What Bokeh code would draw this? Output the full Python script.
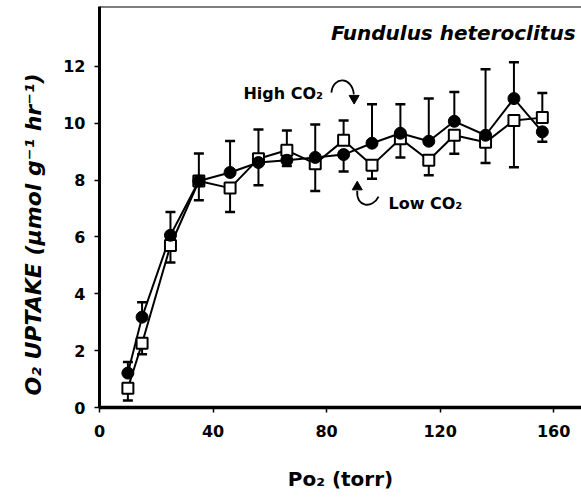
import numpy as np
from bokeh.plotting import figure
from bokeh.models import FixedTicker, Span, Title
from bokeh.core.properties import value
from bokeh.embed import file_html
from bokeh.resources import INLINE

# ---- data ----
po2 = [10, 15, 25, 35, 46, 56, 66, 76, 86, 96, 106, 116, 125, 136, 146, 156]
high_co2 = [1.21, 3.18, 6.06, 7.97, 8.27, 8.62, 8.70, 8.80, 8.90, 9.30, 9.65, 9.37, 10.07, 9.58, 10.87, 9.70]
high_bar_end = [1.60, 3.70, 6.88, 8.94, 9.38, 9.78, 8.50, 9.96, 8.30, 10.67, 10.67, 10.87, 11.10, 11.90, 12.15, 9.35]
low_co2 = [0.68, 2.26, 5.70, 7.97, 7.72, 8.75, 9.05, 8.58, 9.40, 8.52, 9.46, 8.70, 9.58, 9.33, 10.10, 10.20]
low_bar_end = [0.25, 1.87, 5.10, 7.29, 6.88, 7.82, 9.75, 7.62, 10.10, 8.05, 8.80, 8.17, 8.93, 8.60, 8.45, 11.07]
x_ticks = [0, 40, 80, 120, 160]
y_ticks = [0, 2, 4, 6, 8, 10, 12]

title_text = "Fundulus heteroclitus"
high_label = "High CO₂"
low_label = "Low CO₂"
x_label = "Po₂ (torr)"
y_label = "O₂ UPTAKE (μmol g⁻¹ hr⁻¹)"

X_END = 169.8
Y_END = 14.11

# annotation anchor positions (data units)
title_pos = (167.7, 13.16)
high_label_pos = (50.7, 11.05)
low_label_pos = (101.8, 7.18)
high_arrow = dict(x0=81.7, y0=11.08, cx0=82.2, cy0=11.66, cx1=89.0, cy1=11.66, x1=89.6, y1=11.02)
high_head = (89.7, 10.88)
low_arrow = dict(x0=98.3, y0=7.42, cx0=96.2, cy0=6.98, cx1=90.3, cy1=7.05, x1=90.8, y1=7.62)
low_head = (90.8, 7.76)

FONT = "DejaVu Sans"

p = figure(width=581, height=498, x_range=(0, X_END), y_range=(0, Y_END),
           output_backend="svg", toolbar_location=None,
           min_border_left=99, min_border_right=0, min_border_top=6, min_border_bottom=91)
p.grid.visible = False
p.outline_line_color = None
p.background_fill_color = "white"
p.border_fill_color = "white"

# axes
for ax in (p.xaxis[0], p.yaxis[0]):
    ax.axis_line_width = 3
    ax.axis_line_color = "black"
    ax.major_tick_line_width = 1.5
    ax.major_tick_line_color = "black"
    ax.major_tick_in = 0
    ax.major_tick_out = 5
    ax.minor_tick_line_color = None
    ax.major_label_text_font = FONT
    ax.major_label_text_font_size = "16px"
    ax.major_label_text_font_style = "bold"
    ax.major_label_text_color = "black"
p.xaxis.axis_line_width = 3.5

p.xaxis.ticker = FixedTicker(ticks=x_ticks)
p.yaxis.ticker = FixedTicker(ticks=y_ticks)
p.xaxis.major_label_standoff = 12
p.yaxis.major_label_standoff = 9

p.xaxis.axis_label = x_label
p.xaxis.axis_label_text_font = FONT
p.xaxis.axis_label_text_font_size = "20px"
p.xaxis.axis_label_text_font_style = "bold"
p.xaxis.axis_label_text_color = "black"
p.xaxis.axis_label_standoff = 27

ytitle = Title(text=y_label, align="left", offset=12, standoff=30,
               text_font=FONT, text_font_size="22px", text_font_style="bold italic",
               text_color="black")
p.add_layout(ytitle, "left")

p.add_layout(Span(location=Y_END, dimension="width", line_color="black", line_width=2))

# series lines
p.line(po2, low_co2, line_color="black", line_width=2)
p.line(po2, high_co2, line_color="black", line_width=2)

# error bars (one-sided as drawn)
p.segment(x0=po2, y0=low_co2, x1=po2, y1=low_bar_end, line_color="black", line_width=2)
p.segment(x0=po2, y0=high_co2, x1=po2, y1=high_bar_end, line_color="black", line_width=2)
p.scatter(po2, low_bar_end, marker="dash", size=10, line_color="black", line_width=2.5)
p.scatter(po2, high_bar_end, marker="dash", size=10, line_color="black", line_width=2.5)

# markers
p.scatter(po2, low_co2, marker="square", size=11, fill_color="white", line_color="black", line_width=2)
p.scatter(po2, high_co2, marker="circle", size=12, fill_color="black", line_color="black")

# annotations
p.text(x=[title_pos[0]], y=[title_pos[1]], text=[title_text], text_align="right",
       text_baseline="alphabetic", text_font=value(FONT), text_font_size="20px",
       text_font_style="bold italic", text_color="black")
p.text(x=[high_label_pos[0]], y=[high_label_pos[1]], text=[high_label],
       text_baseline="alphabetic", text_font=value(FONT), text_font_size="16px",
       text_font_style="bold", text_color="black")
p.text(x=[low_label_pos[0]], y=[low_label_pos[1]], text=[low_label],
       text_baseline="alphabetic", text_font=value(FONT), text_font_size="16px",
       text_font_style="bold", text_color="black")

p.bezier(x0=[high_arrow["x0"]], y0=[high_arrow["y0"]], x1=[high_arrow["x1"]], y1=[high_arrow["y1"]],
         cx0=[high_arrow["cx0"]], cy0=[high_arrow["cy0"]], cx1=[high_arrow["cx1"]], cy1=[high_arrow["cy1"]],
         line_color="black", line_width=1.8)
p.scatter([high_head[0]], [high_head[1]], marker="inverted_triangle", size=10, fill_color="black", line_color="black")
p.bezier(x0=[low_arrow["x0"]], y0=[low_arrow["y0"]], x1=[low_arrow["x1"]], y1=[low_arrow["y1"]],
         cx0=[low_arrow["cx0"]], cy0=[low_arrow["cy0"]], cx1=[low_arrow["cx1"]], cy1=[low_arrow["cy1"]],
         line_color="black", line_width=1.8)
p.scatter([low_head[0]], [low_head[1]], marker="triangle", size=10, fill_color="black", line_color="black")

open("out.html", "w").write(file_html(p, INLINE))
